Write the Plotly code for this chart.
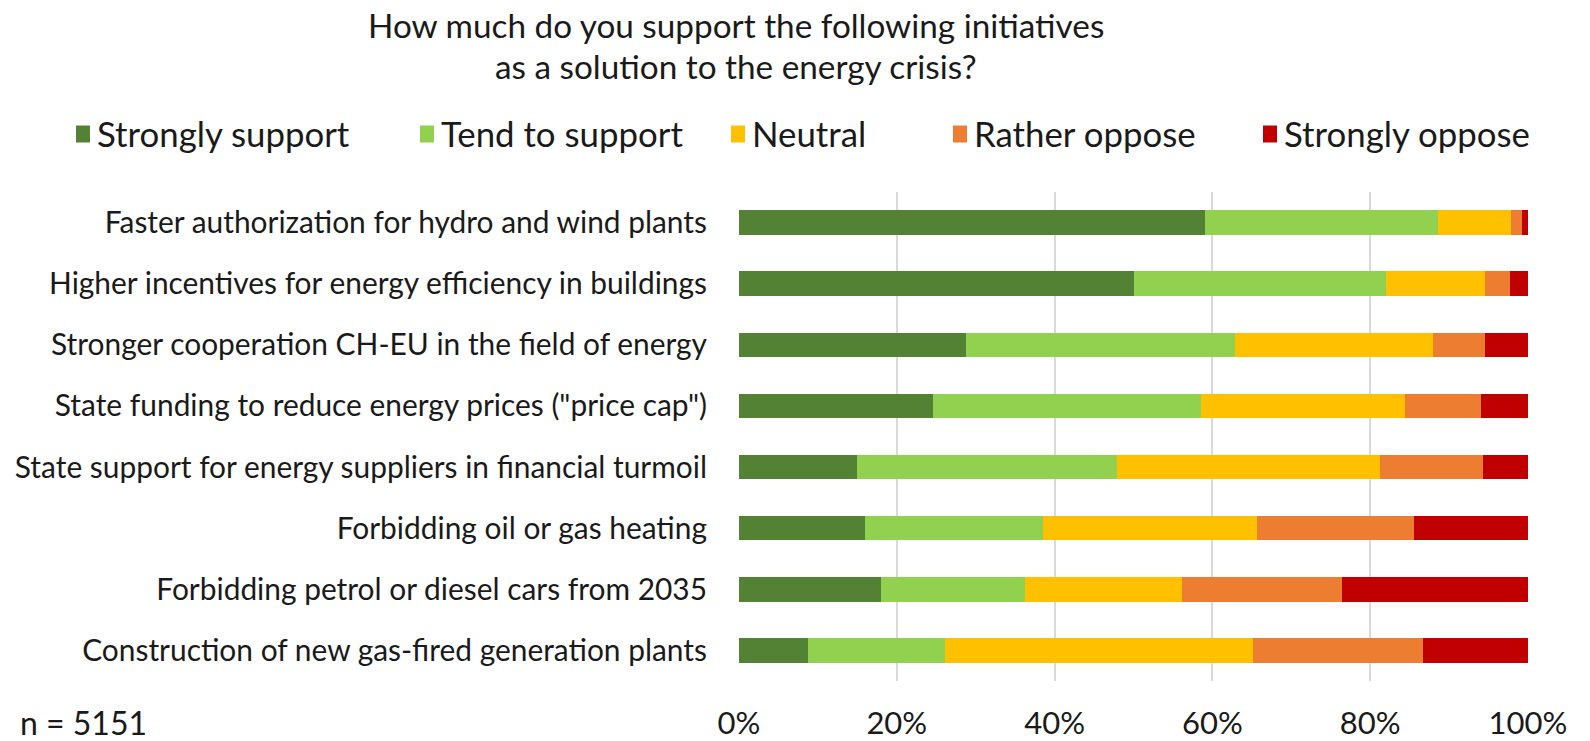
import plotly.graph_objects as go

# Survey initiatives (top to bottom)
initiatives = [
    "Faster authorization for hydro and wind plants",
    "Higher incentives for energy efficiency in buildings",
    "Stronger cooperation CH-EU in the field of energy",
    "State funding to reduce energy prices (\"price cap\")",
    "State support for energy suppliers in financial turmoil",
    "Forbidding oil or gas heating",
    "Forbidding petrol or diesel cars from 2035",
    "Construction of new gas-fired generation plants",
]

# Share of answers per initiative (fractions of respondents)
strongly_support = [0.590, 0.500, 0.288, 0.246, 0.149, 0.160, 0.180, 0.087]
tend_to_support = [0.296, 0.320, 0.341, 0.340, 0.330, 0.225, 0.183, 0.174]
neutral = [0.092, 0.126, 0.250, 0.258, 0.333, 0.272, 0.199, 0.390]
rather_oppose = [0.014, 0.031, 0.066, 0.097, 0.131, 0.199, 0.202, 0.216]
strongly_oppose = [0.008, 0.023, 0.055, 0.059, 0.057, 0.144, 0.236, 0.133]

series_names = ["Strongly support", "Tend to support", "Neutral", "Rather oppose", "Strongly oppose"]
series_values = [strongly_support, tend_to_support, neutral, rather_oppose, strongly_oppose]
series_colors = ["#548235", "#92d050", "#ffc000", "#ed7d31", "#c00000"]

tick_vals = [0, 0.2, 0.4, 0.6, 0.8, 1.0]
tick_text = ["0%", "20%", "40%", "60%", "80%", "100%"]

title_lines = ["How much do you support the following initiatives",
               "as a solution to the energy crisis?"]

FONT = "Lato, 'Open Sans', sans-serif"
TEXT_COLOR = "#1a1a1a"

# Page geometry (pixels)
W, H = 1590, 741
M_L, M_R, M_T, M_B = 739, 62, 192, 60
PLOT_W = W - M_L - M_R
PLOT_H = H - M_T - M_B


def px_x(px):
    """Horizontal page pixel -> paper coordinate."""
    return (px - M_L) / PLOT_W


def px_y(py):
    """Vertical page pixel (from top) -> paper coordinate."""
    return (H - M_B - py) / PLOT_H


fig = go.Figure()
for name, vals, color in zip(series_names, series_values, series_colors):
    fig.add_trace(go.Bar(
        name=name,
        y=initiatives,
        x=vals,
        orientation="h",
        marker=dict(color=color, line=dict(width=0)),
        hoverinfo="name+x",
    ))

fig.update_layout(
    barmode="stack",
    bargap=0.6,
    width=W,
    height=H,
    paper_bgcolor="white",
    plot_bgcolor="white",
    margin=dict(l=M_L, r=M_R, t=M_T, b=M_B, autoexpand=False),
    font=dict(family=FONT, size=30, color=TEXT_COLOR),
    showlegend=False,
)

fig.update_xaxes(
    range=[0, 1],
    tickvals=tick_vals,
    ticktext=tick_text,
    showgrid=True,
    gridcolor="#d9d9d9",
    gridwidth=1.5,
    zeroline=False,
    showline=False,
    ticks="",
    ticklabelstandoff=21,
    tickfont=dict(family=FONT, size=31, color=TEXT_COLOR),
)
fig.update_yaxes(
    autorange="reversed",
    showgrid=False,
    showline=False,
    ticks="",
    ticklabelstandoff=31,
    tickfont=dict(family=FONT, size=29.9, color=TEXT_COLOR),
)

# Title, two centred lines
for line, y_px in zip(title_lines, [25, 66]):
    fig.add_annotation(
        text=line,
        xref="paper", yref="paper",
        x=px_x(736), xanchor="center",
        y=px_y(y_px), yanchor="middle",
        showarrow=False,
        font=dict(family=FONT, size=33.3, color=TEXT_COLOR),
    )

# Legend: coloured squares with labels
legend_square_left = [76, 420, 731, 953, 1263]
legend_y = 134
sq_w, sq_h = 14, 17
for name, color, left in zip(series_names, series_colors, legend_square_left):
    fig.add_shape(
        type="rect",
        xref="paper", yref="paper",
        x0=px_x(left), x1=px_x(left + sq_w),
        y0=px_y(legend_y + sq_h / 2), y1=px_y(legend_y - sq_h / 2),
        fillcolor=color, line=dict(width=0),
    )
    fig.add_annotation(
        text=name,
        xref="paper", yref="paper",
        x=px_x(left + 19), xanchor="left",
        y=px_y(legend_y), yanchor="middle",
        showarrow=False,
        font=dict(family=FONT, size=34.8, color=TEXT_COLOR),
    )

# Sample size note
fig.add_annotation(
    text="n = 5151",
    xref="paper", yref="paper",
    x=px_x(18), xanchor="left",
    y=px_y(722), yanchor="middle",
    showarrow=False,
    font=dict(family=FONT, size=32, color=TEXT_COLOR),
)

fig.write_html("out.html")
